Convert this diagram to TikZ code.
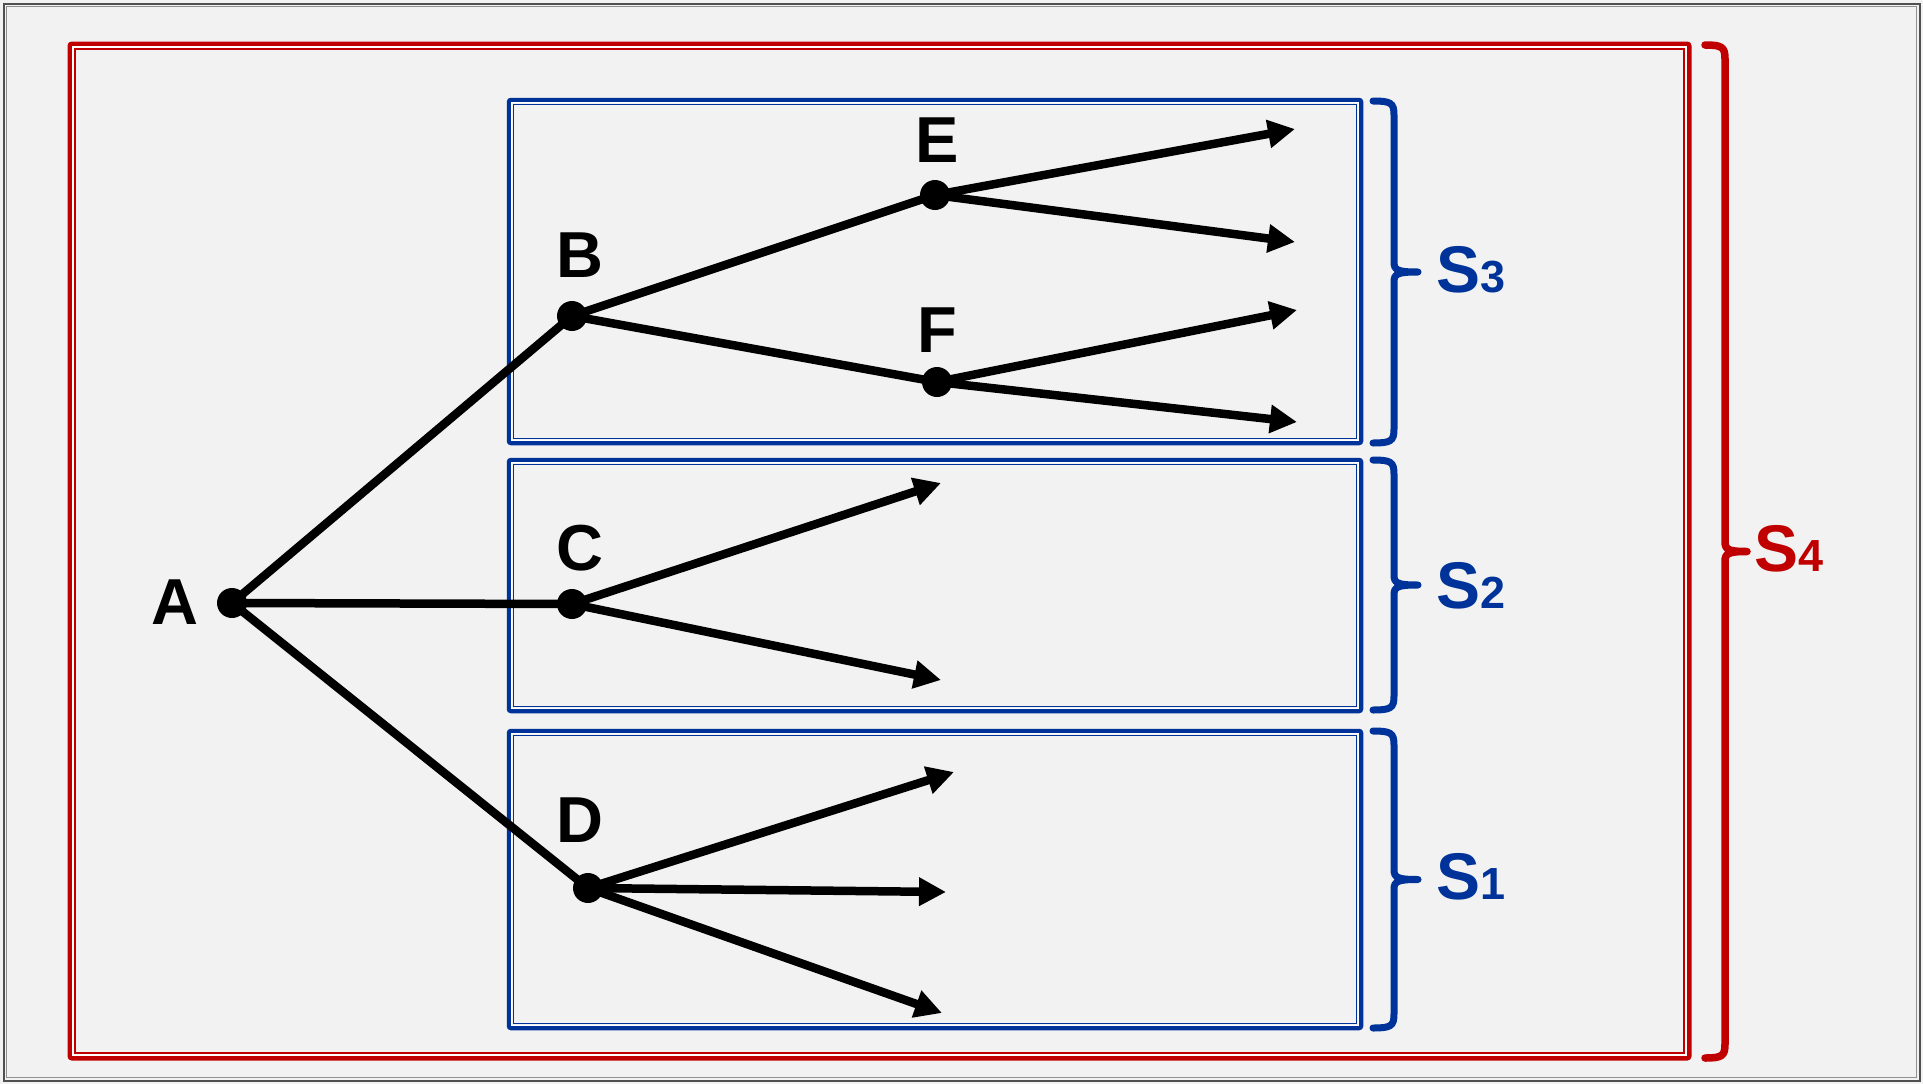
\documentclass[tikz,border=0pt]{standalone}
\usepackage{fontspec}
\setmainfont{Liberation Sans}
\usetikzlibrary{arrows.meta}
\definecolor{bg}{HTML}{F2F2F2}
\definecolor{myblue}{HTML}{003399}
\definecolor{myred}{HTML}{C00000}
\definecolor{framedark}{HTML}{505050}
\definecolor{framelight}{HTML}{909090}
\newcommand{\mybrace}[7]{% color, hook x, vertical x, top, bottom, tip x, width
  \pgfmathsetmacro\bmid{(#4+#5)/2}
  \draw[line width=#7,#1,line cap=round,line join=round]
    (#2,#4) .. controls (#3-3,#4) and (#3,#4+2) .. (#3,#4+14) -- (#3,\bmid-10)
    .. controls (#3,\bmid-2) and (#3+3,\bmid) .. (#6,\bmid)
    (#6,\bmid) .. controls (#3+3,\bmid) and (#3,\bmid+2) .. (#3,\bmid+10)
    -- (#3,#5-14) .. controls (#3,#5-2) and (#3-3,#5) .. (#2,#5);
}
\newcommand{\dblbox}[7]{% color, x1, y1, x2, y2, inset, outer width
  \draw[line width=#7,#1,rounded corners=2pt] (#2,#3) rectangle (#4,#5);
  \draw[line width=1.2pt,white] (#2+#6*0.6,#3+#6*0.6) rectangle (#4-#6*0.6,#5-#6*0.6);
  \draw[line width=1.5pt,#1] (#2+#6,#3+#6) rectangle (#4-#6,#5-#6);
}
\begin{document}
\begin{tikzpicture}[x=1pt,y=-1pt,
  dot/.style={circle,fill=black,inner sep=0pt,minimum size=30pt},
  lbl/.style={font=\fontsize{65}{70}\selectfont\bfseries,inner sep=0pt,text=black},
  slbl/.style={font=\fontsize{66}{70}\selectfont\bfseries,inner sep=0pt,anchor=west},
  branch/.style={line width=8.5pt,black},
  arr/.style={branch,-{Triangle[length=27pt,width=27pt]}}
]
\useasboundingbox (0,0) rectangle (1923,1084);
\fill[bg] (0,0) rectangle (1923,1084);
% page frame
\draw[framedark,line width=2pt] (3.5,3.5) rectangle (1919.5,1080.5);
\draw[framelight,line width=1pt] (6.5,6.5) rectangle (1916.5,1077.5);
% red box
\dblbox{myred}{70}{44}{1689}{1058}{5}{5pt}
% blue boxes
\dblbox{myblue}{509}{100}{1361}{443}{4.5}{4.5pt}
\dblbox{myblue}{509}{460}{1361}{711}{4.5}{4.5pt}
\dblbox{myblue}{509}{731}{1361}{1028}{4.5}{4.5pt}
% braces
\mybrace{myblue}{1373}{1394}{101}{443}{1418}{7pt}
\mybrace{myblue}{1373}{1394}{460}{710}{1418}{7pt}
\mybrace{myblue}{1373}{1394}{731}{1028}{1418}{7pt}
\mybrace{myred}{1705}{1725}{45}{1058}{1747}{7.5pt}
% brace labels
\node[slbl,text=myblue] (s3) at (1436,270) {S{\fontsize{45}{50}\selectfont 3}};
\node[slbl,text=myblue] (s2) at (1436,586) {S{\fontsize{45}{50}\selectfont 2}};
\node[slbl,text=myblue] (s1) at (1436,877) {S{\fontsize{45}{50}\selectfont 1}};
\node[slbl,text=myred] (s4) at (1754,549) {S{\fontsize{45}{50}\selectfont 4}};
% dots
\node[dot] (A) at (232,603) {};
\node[dot] (B) at (572,316) {};
\node[dot] (C) at (572,604) {};
\node[dot] (D) at (588,888) {};
\node[dot] (E) at (935,195) {};
\node[dot] (F) at (937,382) {};
% arrow ends
\coordinate (e1) at (1295,129);
\coordinate (e2) at (1295,242);
\coordinate (f1) at (1297,310);
\coordinate (f2) at (1297,422);
\coordinate (c1) at (941,483);
\coordinate (c2) at (941,680);
\coordinate (d1) at (954,772);
\coordinate (d2) at (946,892);
\coordinate (d3) at (942,1013);
% branches
\draw[branch] (A.center) -- (B.center);
\draw[branch] (A.center) -- (C.center);
\draw[branch] (A.center) -- (D.center);
\draw[branch] (B.center) -- (E.center);
\draw[branch] (B.center) -- (F.center);
\draw[arr] (E.center) -- (e1);
\draw[arr] (E.center) -- (e2);
\draw[arr] (F.center) -- (f1);
\draw[arr] (F.center) -- (f2);
\draw[arr] (C.center) -- (c1);
\draw[arr] (C.center) -- (c2);
\draw[arr] (D.center) -- (d1);
\draw[arr] (D.center) -- (d2);
\draw[arr] (D.center) -- (d3);
% labels
\node[lbl] (lA) at (175,602) {A};
\node[lbl] (lB) at (580,255) {B};
\node[lbl] (lC) at (580,548) {C};
\node[lbl] (lD) at (580,820) {D};
\node[lbl] (lE) at (937,140) {E};
\node[lbl] (lF) at (937,330) {F};
\end{tikzpicture}
\end{document}
